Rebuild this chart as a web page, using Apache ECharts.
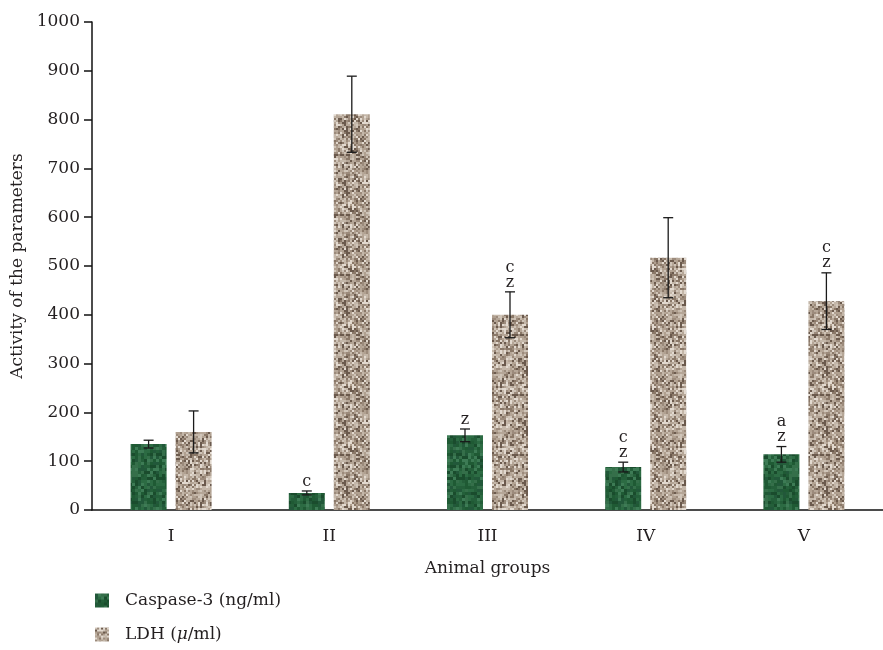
<!DOCTYPE html>
<html>
<head>
<meta charset="utf-8">
<script src="https://cdn.jsdelivr.net/npm/echarts@6/dist/echarts.min.js"></script>
<style>
  html, body { margin: 0; padding: 0; background: #fff; }
  #chart { width: 883px; height: 650px; }
</style>
</head>
<body>
<div id="chart"></div>
<script>
// values
var groups = ['I', 'II', 'III', 'IV', 'V'];
var caspase = [135, 35, 153, 88, 114];
var caspaseErr = [8, 4, 13, 10, 16];
var caspaseMarks = ['', 'c', 'z', 'c\nz', 'a\nz'];
var ldh = [160, 811, 400, 517, 428];
var ldhErr = [43, 78, 47, 82, 58];
var ldhMarks = ['', '', 'c\nz', '', 'c\nz'];

var casName = 'Caspase-3 (ng/ml)';
var ldhName = 'LDH (\u03bc/ml)';
var FONT = '"DejaVu Serif", "Liberation Serif", serif';
var INK = '#231f20';

// small fixed textures for the bar fills (hash noise, not data)
function hash(n) {
  var s = Math.sin(n * 12.9898 + 78.233) * 43758.5453;
  return s - Math.floor(s);
}
function texture(palette, size, block, seed) {
  var c = document.createElement('canvas');
  c.width = c.height = size;
  var g = c.getContext('2d');
  for (var y = 0; y < size; y += block) {
    for (var x = 0; x < size; x += block) {
      var r = hash(seed + x * 7.13 + y * 131.7);
      g.fillStyle = palette[Math.floor(r * palette.length)];
      g.fillRect(x, y, block, block);
    }
  }
  return c;
}
var greenTex = texture(['#1f5a34', '#245f3a', '#2c6b43', '#1a4c2d', '#356f4a', '#22583a', '#3d7b55'], 60, 3, 1);
var beigeTex = texture(['#b5a697', '#c4b7a9', '#9c8b7c', '#e2d9cf', '#6b5a4d', '#b0a090', '#cfc4b8', '#8a7868'], 60, 2, 5);

var chart = echarts.init(document.getElementById('chart'));

var BAR_W = 36, SHIFT = 22.5;

function errorSeries(vals, errs, marks, shift) {
  return {
    type: 'custom',
    silent: true,
    z: 5,
    data: vals.map(function (v, i) { return [i, v, errs[i]]; }),
    renderItem: function (params, api) {
      var i = api.value(0), v = api.value(1), e = api.value(2);
      var mark = marks[i];
      var top = api.coord([i, v + e]);
      var bot = api.coord([i, v - e]);
      var x = top[0] + shift;
      var ls = { stroke: '#1a1a1a', lineWidth: 1.3 };
      var kids = [
        { type: 'line', shape: { x1: x, y1: top[1], x2: x, y2: bot[1] }, style: ls },
        { type: 'line', shape: { x1: x - 5, y1: top[1], x2: x + 5, y2: top[1] }, style: ls },
        { type: 'line', shape: { x1: x - 5, y1: bot[1], x2: x + 5, y2: bot[1] }, style: ls }
      ];
      if (mark) {
        kids.push({
          type: 'text',
          style: {
            x: x, y: top[1] - 2, text: mark,
            textAlign: 'center', textVerticalAlign: 'bottom',
            font: '16px ' + FONT, lineHeight: 15, fill: INK
          }
        });
      }
      return { type: 'group', children: kids };
    }
  };
}

chart.setOption({
  animation: false,
  textStyle: { fontFamily: FONT, color: INK },
  grid: { left: 92, top: 22, width: 800, height: 488 },
  legend: {
    data: [casName, ldhName],
    orient: 'vertical',
    left: 95, top: 592,
    padding: 0,
    itemWidth: 14, itemHeight: 14, itemGap: 17,
    icon: 'rect',
    textStyle: {
      fontFamily: FONT, fontSize: 17, color: INK, padding: [0, 0, 0, 11],
      rich: { i: { fontFamily: FONT, fontSize: 17, fontStyle: 'italic', color: INK } }
    },
    formatter: function (n) { return n === ldhName ? 'LDH ({i|\u03bc}/ml)' : n; }
  },
  xAxis: {
    type: 'category',
    data: groups,
    name: 'Animal groups',
    nameLocation: 'middle',
    nameGap: 50,
    nameTextStyle: { fontFamily: FONT, fontSize: 17, color: INK },
    axisLine: { lineStyle: { color: '#111', width: 1.5 } },
    axisTick: { length: 7, lineStyle: { color: '#111', width: 1.5 } },
    axisLabel: { fontFamily: FONT, fontSize: 17, color: INK, margin: 18 }
  },
  yAxis: {
    type: 'value',
    min: 0, max: 1000, interval: 100,
    name: 'Activity of the parameters',
    nameLocation: 'middle',
    nameGap: 64,
    nameTextStyle: { fontFamily: FONT, fontSize: 17, color: INK },
    axisLine: { show: true, lineStyle: { color: '#111', width: 1.5 } },
    axisTick: { show: true, length: 8, lineStyle: { color: '#111', width: 1.5 } },
    axisLabel: { fontFamily: FONT, fontSize: 17, color: INK, margin: 12, formatter: function (v) { return String(v); } },
    splitLine: { show: false }
  },
  series: [
    {
      name: casName, type: 'bar', data: caspase,
      barWidth: BAR_W, barGap: '25%',
      itemStyle: { color: { image: greenTex, repeat: 'repeat' } }
    },
    {
      name: ldhName, type: 'bar', data: ldh,
      barWidth: BAR_W,
      itemStyle: { color: { image: beigeTex, repeat: 'repeat' } }
    },
    errorSeries(caspase, caspaseErr, caspaseMarks, -SHIFT),
    errorSeries(ldh, ldhErr, ldhMarks, SHIFT)
  ]
});
</script>
</body>
</html>
